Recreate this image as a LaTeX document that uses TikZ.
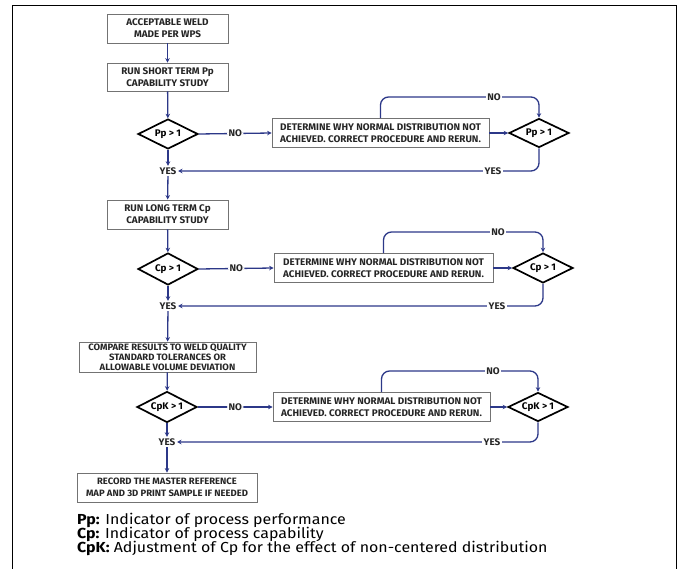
\documentclass[tikz,border=0pt]{standalone}
\usepackage{fontspec}
\setmainfont{Fira Sans}
\newfontfamily\boxfont[FakeStretch=1.03]{Fira Sans}
\newfontfamily\legfont[FakeStretch=1.1]{Fira Sans}
\usetikzlibrary{shapes.geometric,arrows.meta,calc}
\definecolor{navy}{RGB}{44,56,136}
\begin{document}
\begin{tikzpicture}[x=1pt,y=-1pt,
  box/.style={draw=black!55, line width=0.8pt, fill=white, align=center,
    font=\boxfont\bfseries\fontsize{9.6}{12}\selectfont, text=black!85, inner sep=1pt},
  dia/.style={diamond, draw=black, line width=1.7pt, fill=white, aspect=2, inner sep=0pt,
    minimum width=60pt, minimum height=30pt, font=\boxfont\bfseries\fontsize{9.6}{11}\selectfont},
  conn/.style={draw=navy, line width=1.3pt, rounded corners=8pt},
  arr/.style={conn, -{Stealth[length=4.5pt,width=4.5pt]}},
  lbl/.style={fill=white, inner sep=1.5pt, font=\boxfont\bfseries\fontsize{9.6}{10}\selectfont, text=black!85},
  leg/.style={anchor=west, inner sep=0pt, font=\legfont\fontsize{14.5}{15}\selectfont},
]
\useasboundingbox (0,0) rectangle (686,569);
\draw[line width=1pt] (12,569) -- (12,6) -- (676,6) -- (676,569);

% main column
\node[box, minimum width=121pt, minimum height=29pt] (start) at (167.5,28.5) {ACCEPTABLE WELD\\MADE PER WPS};
\node[box, minimum width=121pt, minimum height=28pt] (short) at (167.5,77) {RUN SHORT TERM Pp\\CAPABILITY STUDY};
\node[dia] (d1) at (168,134) {Pp > 1};
\node[lbl] (y1) at (168,171) {YES};
\node[box, minimum width=121pt, minimum height=29pt] (long) at (167.5,214.5) {RUN LONG TERM Cp\\CAPABILITY STUDY};
\node[dia, minimum height=32pt] (d2) at (168,269) {Cp > 1};
\node[lbl] (y2) at (168,306) {YES};
\node[box, minimum width=177pt, minimum height=30pt, font=\boxfont\bfseries\fontsize{9.2}{10}\selectfont] (compare) at (167.5,357) {COMPARE RESULTS TO WELD QUALITY\\STANDARD TOLERANCES OR\\ALLOWABLE VOLUME DEVIATION};
\node[dia, minimum height=31pt] (d3) at (167,407) {CpK > 1};
\node[lbl] (y3) at (167,442) {YES};
\node[box, minimum width=180pt, minimum height=29pt, font=\boxfont\bfseries\fontsize{9.2}{12}\selectfont] (record) at (167,487.5) {RECORD THE MASTER REFERENCE\\MAP AND 3D PRINT SAMPLE IF NEEDED};

% right side
\node[box, minimum width=217pt, minimum height=29pt] (fix1) at (380.5,133) {DETERMINE WHY NORMAL DISTRIBUTION NOT\\ACHIEVED. CORRECT PROCEDURE AND RERUN.};
\node[dia, minimum height=29pt] (r1) at (539,133) {Pp > 1};
\node[box, minimum width=219pt, minimum height=29pt] (fix2) at (383.5,268) {DETERMINE WHY NORMAL DISTRIBUTION NOT\\ACHIEVED. CORRECT PROCEDURE AND RERUN.};
\node[dia, minimum height=30pt] (r2) at (543,268) {Cp > 1};
\node[box, minimum width=217pt, minimum height=29pt] (fix3) at (381.5,407) {DETERMINE WHY NORMAL DISTRIBUTION NOT\\ACHIEVED. CORRECT PROCEDURE AND RERUN.};
\node[dia, minimum height=29pt] (r3) at (538,407) {CpK > 1};

% vertical connectors
\draw[arr] (start) -- (short);
\draw[arr] (short) -- (d1);
\draw[arr] (d1) -- (y1);
\draw[arr] (y1) -- (long);
\draw[arr] (long) -- (d2);
\draw[arr] (d2) -- (y2);
\draw[arr] (y2) -- (compare);
\draw[arr] (compare) -- (d3);
\draw[arr] (d3) -- (y3);
\draw[arr] (y3) -- (record);

% row loops
\foreach \d/\f/\r/\y/\ny/\yy in {d1/fix1/r1/y1/97/171, d2/fix2/r2/y2/232/306, d3/fix3/r3/y3/371/442}{
  \draw[arr] (\d.east) -- node[lbl]{NO} (\f.west);
  \draw[arr] (\f.east) -- (\r.west);
  \draw[arr] (\f.north) |- (\r.north |- 0,\ny) -- (\r.north);
  \draw[arr] (\r.south) |- (\y.east);
  \node[lbl] at ($(\r.north |- 0,\ny)+(-45,0)$) {NO};
  \node[lbl] at ($(\r.south |- 0,\yy)+(-46,0)$) {YES};
}

% legend
\node[leg] (leg1) at (77,520) {\textbf{Pp:} Indicator of process performance};
\node[leg] (leg2) at (77,534) {\textbf{Cp:} Indicator of process capability};
\node[leg] (leg3) at (77,548) {\textbf{CpK:} Adjustment of Cp for the effect of non-centered distribution};
\end{tikzpicture}
\end{document}
